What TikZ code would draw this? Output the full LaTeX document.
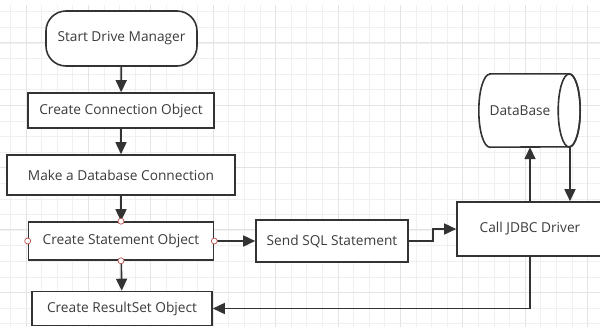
\documentclass[tikz,border=0pt]{standalone}
\usepackage{fontspec}
\setmainfont{Open Sans}
\usetikzlibrary{arrows.meta,calc}

\definecolor{ink}{HTML}{333333}
\definecolor{txt}{HTML}{3C3C3C}
\definecolor{gridminor}{HTML}{F0F0F0}
\definecolor{gridmajor}{HTML}{E4E4E4}
\definecolor{portred}{HTML}{C05050}

\tikzset{
  lbl/.style={text=txt, font=\fontsize{13.7}{16}\selectfont},
  box/.style={draw=ink, line width=1.6pt, fill=white, lbl, inner sep=0pt},
  startbox/.style={box, rounded corners=20pt},
  arr/.style={draw=ink, line width=1.6pt,
    -{Triangle[length=12pt,width=11pt]}},
  link/.style={draw=ink, line width=1.6pt},
  port/.style={circle, draw=portred, fill=white, line width=0.7pt,
    inner sep=0pt, minimum size=6pt},
}

\begin{document}
\begin{tikzpicture}[x=1pt,y=-1pt]
  \useasboundingbox (0,0) rectangle (600,327);

  % background grid
  \foreach \k in {0,...,38} {
    \pgfmathsetmacro{\gx}{10.4+15.6*\k}
    \draw[gridminor, line width=0.8pt] (\gx,5) -- (\gx,327);
  }
  \foreach \k in {0,...,20} {
    \pgfmathsetmacro{\gy}{11.7+15.6*\k}
    \draw[gridminor, line width=0.8pt] (0,\gy) -- (600,\gy);
  }
  \foreach \k in {0,...,9} {
    \pgfmathsetmacro{\gx}{26+62.4*\k}
    \draw[gridmajor, line width=0.9pt] (\gx,5) -- (\gx,327);
  }
  \foreach \k in {0,...,4} {
    \pgfmathsetmacro{\gy}{42.7+62.4*\k}
    \draw[gridmajor, line width=0.9pt] (0,\gy) -- (600,\gy);
  }

  % flow nodes
  \node[startbox, minimum width=151pt, minimum height=55pt] (start) at (121.5,38.5) {Start Drive Manager};
  \node[box, minimum width=186pt, minimum height=35pt] (cco) at (121,110.5) {Create Connection Object};
  \node[box, minimum width=228pt, minimum height=40pt] (mdc) at (121,175) {Make a Database Connection};
  \node[box, minimum width=185pt, minimum height=38pt] (cso) at (121,241) {Create Statement Object};
  \node[box, minimum width=180pt, minimum height=34pt] (cro) at (122,308.5) {Create ResultSet Object};
  \node[box, minimum width=152pt, minimum height=42pt] (sql) at (332,241) {Send SQL Statement};
  \node[box, minimum width=146pt, minimum height=54pt] (jdbc) at (530,229) {Call JDBC Driver};

  % database cylinder: body from the left cap to the right ellipse centre
  \node[minimum width=90pt, minimum height=73pt, inner sep=0pt] (db) at (524,110.5) {};
  \fill[white] ($(db.north west)+(11,0)$) -- (db.north east)
    arc[start angle=90, end angle=-90, x radius=11pt, y radius=36.5pt]
    -- ($(db.south west)+(11,0)$)
    arc[start angle=270, end angle=90, x radius=11pt, y radius=36.5pt] -- cycle;
  \draw[link] ($(db.north west)+(11,0)$) -- (db.north east)
    arc[start angle=90, end angle=-90, x radius=11pt, y radius=36.5pt]
    -- ($(db.south west)+(11,0)$)
    arc[start angle=270, end angle=90, x radius=11pt, y radius=36.5pt] -- cycle;
  \draw[link] (db.east) ellipse[x radius=11pt, y radius=36.5pt];
  \node[lbl] (dblabel) at (520,111) {DataBase};

  % connectors
  \draw[arr] (start) -- (cco);
  \draw[arr] (cco) -- (mdc);
  \draw[arr] (mdc) -- (cso);
  \draw[arr] (cso) -- (cro);
  \draw[arr] (cso.east) -- (sql.west);
  \draw[arr] (sql.east) -- ++(24,0) |- (jdbc.west);
  \draw[arr] (jdbc.north) -- (jdbc.north |- db.south);
  \draw[arr] ([xshift=40pt]jdbc.north |- db.south) -- ([xshift=40pt]jdbc.north);
  \draw[arr] (jdbc.south) |- (cro.east);

  % connection points on the statement box
  \node[port] (p1) at (cso.north) {};
  \node[port] (p2) at (cso.south) {};
  \node[port] (p3) at (cso.west) {};
  \node[port] (p4) at (cso.east) {};
\end{tikzpicture}
\end{document}
